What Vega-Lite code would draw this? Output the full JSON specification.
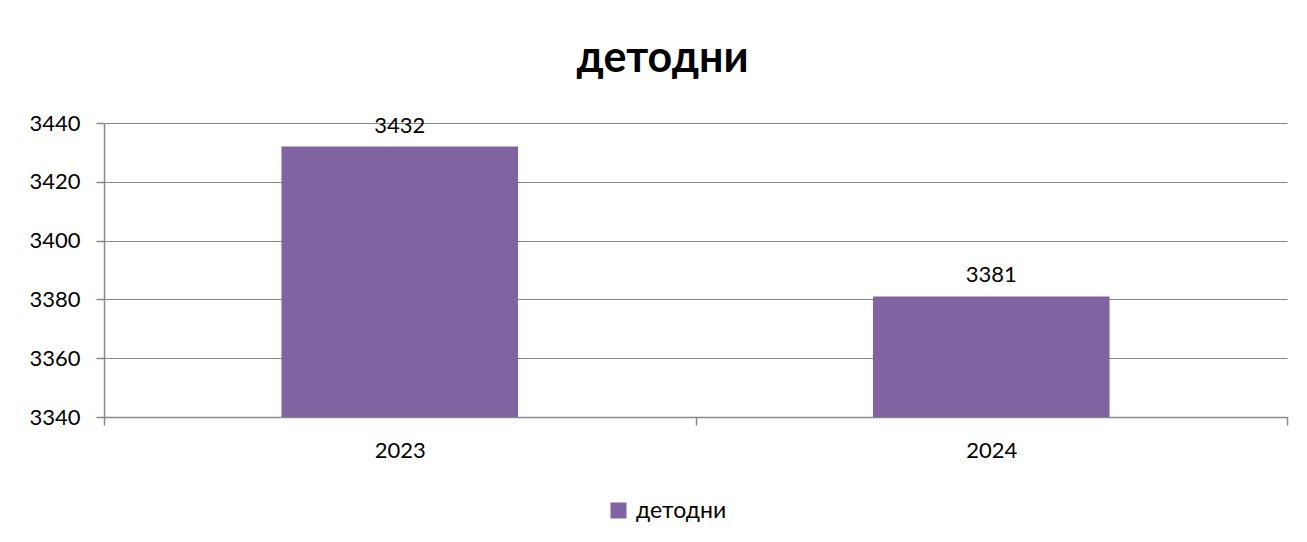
{
  "$schema": "https://vega.github.io/schema/vega-lite/v6.json",
  "autosize": "none",
  "width": 1183,
  "height": 294,
  "padding": {"left": 104, "top": 123, "right": 20, "bottom": 125},
  "background": "white",
  "config": {
    "font": "Lato",
    "view": {"stroke": null}
  },
  "title": {
    "text": "детодни",
    "font": "Lato",
    "fontSize": 43,
    "fontWeight": "bold",
    "color": "black",
    "anchor": "middle",
    "frame": "group",
    "dx": -33,
    "offset": 31
  },
  "data": {
    "values": [
      {"year": "2023", "value": 3432, "series": "детодни"},
      {"year": "2024", "value": 3381, "series": "детодни"}
    ]
  },
  "encoding": {
    "x": {
      "field": "year",
      "type": "nominal",
      "scale": {"paddingInner": 0, "paddingOuter": 0},
      "axis": {
        "title": null,
        "labelAngle": 0,
        "labelFontSize": 22,
        "labelColor": "black",
        "labelPadding": 15,
        "tickBand": "extent",
        "tickSize": 8,
        "tickColor": "#888888",
        "tickWidth": 1.5,
        "domainColor": "#888888",
        "domainWidth": 1.5,
        "grid": false
      }
    },
    "y": {
      "field": "value",
      "type": "quantitative",
      "scale": {"domain": [3340, 3440], "zero": false, "nice": false},
      "axis": {
        "title": null,
        "format": "d",
        "values": [3340, 3360, 3380, 3400, 3420, 3440],
        "labelFontSize": 22,
        "labelColor": "black",
        "labelPadding": 16,
        "tickSize": 8,
        "tickColor": "#888888",
        "tickWidth": 1.5,
        "domainColor": "#888888",
        "domainWidth": 1.5,
        "gridColor": "#888888",
        "gridWidth": 1.2
      }
    }
  },
  "layer": [
    {
      "mark": {"type": "bar", "width": {"band": 0.4}},
      "encoding": {
        "y2": {"datum": 3340},
        "color": {
          "field": "series",
          "type": "nominal",
          "scale": {"domain": ["детодни"], "range": ["#8064A2"]},
          "legend": {
            "title": null,
            "orient": "none",
            "legendX": 503,
            "legendY": 376,
            "symbolType": "square",
            "symbolSize": 256,
            "symbolStrokeWidth": 0,
            "symbolOpacity": 1,
            "labelFontSize": 23,
            "labelColor": "black",
            "labelOffset": 6
          }
        }
      }
    },
    {
      "mark": {"type": "text", "baseline": "bottom", "dy": -9, "fontSize": 22, "color": "black"},
      "encoding": {
        "text": {"field": "value", "type": "quantitative"}
      }
    }
  ]
}
